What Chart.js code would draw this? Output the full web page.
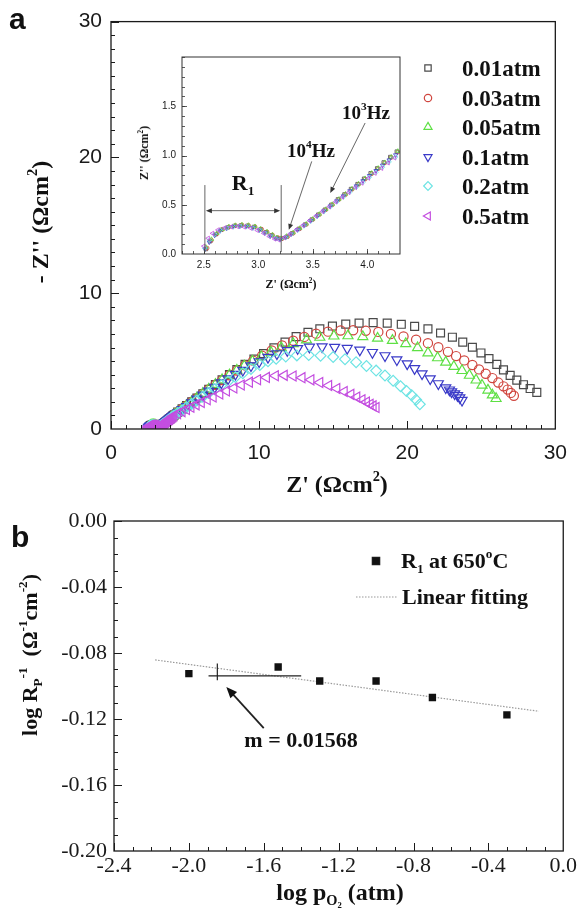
<!DOCTYPE html>
<html>
<head>
<meta charset="utf-8">
<title>Impedance spectra vs oxygen partial pressure</title>
<script src="https://cdn.jsdelivr.net/npm/chart.js@4.4.1/dist/chart.umd.min.js"></script>
<style>
  html, body { margin: 0; padding: 0; background: #fff; }
  #fig { position: relative; width: 579px; height: 922px; overflow: hidden; }
  canvas { position: absolute; }
  .txt { position: absolute; white-space: nowrap; line-height: 1; color: #111;
         font-family: "Liberation Serif", "Times New Roman", serif; font-weight: bold; }
  .ctr { transform: translate(-50%, -50%); }
  .rot { transform: translate(-50%, -50%) rotate(-90deg); }
  .lft { transform: translateY(-50%); }
  .panel { font-family: "Liberation Sans", Arial, sans-serif; font-size: 30px; }
  sup, sub { font-size: 0.6em; line-height: 0; position: relative; vertical-align: baseline; }
  sup { top: -0.75em; }
  sub { top: 0.35em; }
</style>
</head>
<body>
<div id="fig">
  <canvas id="nyquist" width="579" height="500" style="left:0;top:0"></canvas>
  <canvas id="inset" width="280" height="245" style="left:130px;top:40px"></canvas>
  <canvas id="rp" width="579" height="422" style="left:0;top:500px"></canvas>

  <div class="txt panel" style="left:9px;top:4px">a</div>
  <div class="txt rot" style="left:40px;top:222px;font-size:24px">- Z'' (&Omega;cm<sup>2</sup>)</div>
  <div class="txt ctr" style="left:337px;top:484px;font-size:24px">Z' (&Omega;cm<sup>2</sup>)</div>

  <div class="txt rot" style="left:144px;top:153px;font-size:12px">Z'' (&Omega;cm<sup>2</sup>)</div>
  <div class="txt ctr" style="left:291px;top:284px;font-size:12px">Z' (&Omega;cm<sup>2</sup>)</div>
  <div class="txt ctr" style="left:243px;top:183px;font-size:22px">R<sub>1</sub></div>
  <div class="txt ctr" style="left:311px;top:150px;font-size:19px">10<sup>4</sup>Hz</div>
  <div class="txt ctr" style="left:366px;top:112px;font-size:19px">10<sup>3</sup>Hz</div>

  <div class="txt panel" style="left:11px;top:522px">b</div>
  <div class="txt rot" style="left:30px;top:655px;font-size:22px">log R<sub>P</sub><sup>-1</sup> &nbsp;(&Omega;<sup>-1</sup>cm<sup>-2</sup>)</div>
  <div class="txt ctr" style="left:340px;top:892px;font-size:24px">log p<sub>O<sub>2</sub></sub> (atm)</div>
  <div class="txt lft" style="left:401px;top:561px;font-size:22px">R<sub>1</sub> at 650<sup>o</sup>C</div>
  <div class="txt lft" style="left:402px;top:597px;font-size:22px">Linear fitting</div>
  <div class="txt ctr" style="left:301px;top:740px;font-size:22px">m = 0.01568</div>
</div>

<script>
"use strict";

/* ─── Panel a: Nyquist plots, Z' (Ωcm²) and -Z'' (Ωcm²) per pO2 ─────────── */

const P_LABELS = ["0.01atm", "0.03atm", "0.05atm", "0.1atm", "0.2atm", "0.5atm"];

const RE_001 = [2.52,2.56,2.61,2.66,2.72,2.78,2.84,2.90,2.96,3.02,3.07,3.12,3.17,3.21,3.26,3.31,3.37,3.43,3.49,3.55,3.61,3.67,3.73,3.79,3.85,3.91,3.97,4.03,4.09,4.15,4.21,4.27,
  4.5,4.8,5.1,5.45,5.8,6.2,6.6,7.05,7.5,8.0,8.5,9.05,9.65,10.3,11.0,11.75,12.5,13.3,14.1,14.95,15.85,16.75,17.7,18.65,19.6,20.5,21.4,22.25,23.05,23.75,24.4,24.98,25.52,26.05,26.5,26.95,27.4,27.85,28.3,28.75];
const IM_001 = [0.05,0.13,0.20,0.245,0.27,0.285,0.29,0.287,0.275,0.25,0.222,0.19,0.163,0.155,0.175,0.21,0.255,0.30,0.35,0.40,0.45,0.50,0.555,0.605,0.66,0.71,0.765,0.82,0.87,0.93,0.985,1.04,
  1.24,1.48,1.72,2.0,2.28,2.6,2.92,3.27,3.62,4.0,4.37,4.76,5.15,5.55,5.98,6.4,6.8,7.12,7.38,7.58,7.72,7.8,7.83,7.8,7.71,7.56,7.37,7.07,6.76,6.4,6.02,5.6,5.18,4.76,4.35,3.95,3.6,3.26,2.98,2.7];

const RE_003 = [2.53,2.57,2.62,2.67,2.73,2.79,2.85,2.91,2.97,3.03,3.08,3.13,3.18,3.22,3.27,3.32,3.38,3.44,3.50,3.56,3.62,3.68,3.74,3.80,3.86,3.92,3.98,4.04,4.10,4.16,4.22,4.28,
  4.5,4.8,5.1,5.45,5.8,6.2,6.6,7.05,7.5,8.0,8.5,9.05,9.6,10.2,10.85,11.55,12.3,13.05,13.85,14.65,15.5,16.35,17.2,18.05,18.9,19.75,20.6,21.4,22.1,22.75,23.3,23.85,24.4,24.85,25.3,25.75,26.15,26.5,26.78,27.0,27.2];
const IM_003 = [0.06,0.14,0.205,0.25,0.275,0.29,0.295,0.29,0.277,0.252,0.224,0.193,0.166,0.158,0.178,0.212,0.256,0.30,0.35,0.40,0.45,0.50,0.553,0.603,0.657,0.707,0.76,0.815,0.866,0.925,0.98,1.035,
  1.23,1.47,1.71,1.99,2.27,2.59,2.91,3.26,3.6,3.96,4.31,4.68,5.03,5.4,5.78,6.15,6.5,6.78,7.02,7.17,7.25,7.27,7.23,7.15,7.0,6.82,6.58,6.32,6.02,5.68,5.37,5.05,4.71,4.39,4.07,3.75,3.42,3.14,2.9,2.66,2.45];

const RE_005 = [2.52,2.57,2.62,2.67,2.73,2.79,2.85,2.91,2.97,3.02,3.08,3.13,3.17,3.21,3.26,3.32,3.38,3.44,3.50,3.56,3.62,3.68,3.74,3.80,3.86,3.92,3.98,4.04,4.10,4.16,4.22,4.28,
  4.5,4.8,5.1,5.45,5.8,6.2,6.6,7.05,7.5,8.0,8.5,9.0,9.55,10.15,10.8,11.5,12.3,13.2,14.1,15.05,16.0,17.0,18.0,19.0,19.9,20.7,21.4,22.05,22.6,23.15,23.7,24.2,24.65,25.05,25.45,25.75,26.0];
const IM_005 = [0.07,0.15,0.21,0.25,0.278,0.292,0.297,0.293,0.28,0.256,0.226,0.195,0.168,0.16,0.182,0.218,0.262,0.306,0.356,0.405,0.455,0.505,0.558,0.61,0.663,0.713,0.768,0.822,0.873,0.93,0.985,1.045,
  1.25,1.49,1.73,2.01,2.29,2.61,2.93,3.28,3.62,3.98,4.32,4.64,4.98,5.32,5.65,5.98,6.28,6.55,6.75,6.84,6.86,6.8,6.68,6.52,6.28,5.98,5.6,5.24,4.92,4.6,4.3,3.95,3.6,3.22,2.86,2.5,2.24];

const RE_01 = [2.51,2.55,2.60,2.65,2.71,2.77,2.83,2.89,2.95,3.01,3.06,3.11,3.16,3.20,3.25,3.30,3.36,3.42,3.48,3.54,3.60,3.66,3.72,3.78,3.84,3.90,3.96,4.02,4.08,4.14,4.20,4.26,
  4.5,4.8,5.1,5.45,5.8,6.2,6.6,7.0,7.45,7.9,8.4,8.9,9.45,10.0,10.6,11.2,11.9,12.6,13.4,14.25,15.1,15.95,16.8,17.65,18.5,19.3,20.0,20.5,21.0,21.55,22.1,22.6,22.85,23.0,23.2,23.4,23.55,23.7];
const IM_01 = [0.05,0.12,0.19,0.235,0.262,0.277,0.282,0.278,0.266,0.242,0.214,0.183,0.157,0.148,0.168,0.202,0.246,0.29,0.338,0.386,0.436,0.486,0.538,0.588,0.64,0.69,0.742,0.795,0.845,0.9,0.953,1.005,
  1.2,1.43,1.66,1.93,2.2,2.5,2.8,3.08,3.4,3.7,4.03,4.33,4.66,4.96,5.28,5.55,5.78,5.93,6.03,6.06,6.02,5.94,5.82,5.64,5.4,5.1,4.8,4.45,4.07,3.7,3.34,3.04,2.88,2.74,2.6,2.46,2.3,2.12];

const RE_02 = [2.51,2.55,2.60,2.65,2.71,2.77,2.83,2.89,2.95,3.01,3.06,3.11,3.16,3.20,3.25,3.30,3.36,3.42,3.48,3.54,3.60,3.66,3.72,3.78,3.84,3.90,3.96,4.02,4.08,4.14,4.20,4.26,
  4.5,4.8,5.1,5.45,5.8,6.2,6.6,7.0,7.45,7.9,8.4,8.9,9.45,10.05,10.6,11.15,11.8,12.55,13.35,14.15,15.0,15.8,16.55,17.25,17.9,18.5,19.05,19.55,19.95,20.3,20.6,20.85];
const IM_02 = [0.06,0.14,0.2,0.24,0.265,0.278,0.282,0.277,0.264,0.24,0.212,0.181,0.155,0.146,0.165,0.198,0.24,0.284,0.332,0.38,0.428,0.478,0.528,0.578,0.628,0.678,0.728,0.78,0.83,0.882,0.935,0.985,
  1.17,1.38,1.6,1.85,2.1,2.38,2.65,2.92,3.22,3.5,3.82,4.1,4.42,4.72,4.98,5.18,5.33,5.42,5.44,5.4,5.3,5.14,4.92,4.64,4.3,3.94,3.55,3.15,2.8,2.48,2.16,1.82];

const RE_05 = [2.50,2.54,2.58,2.63,2.69,2.75,2.81,2.87,2.93,2.99,3.05,3.10,3.15,3.19,3.24,3.29,3.35,3.41,3.47,3.53,3.59,3.65,3.71,3.77,3.83,3.89,3.95,4.01,4.07,4.13,4.19,4.25,
  4.5,4.8,5.1,5.4,5.75,6.1,6.5,6.9,7.35,7.8,8.3,8.8,9.35,9.9,10.5,11.1,11.7,12.3,12.9,13.5,14.1,14.7,15.25,15.75,16.2,16.6,16.95,17.25,17.5,17.7,17.9];
const IM_05 = [0.08,0.16,0.21,0.245,0.265,0.275,0.278,0.274,0.262,0.24,0.21,0.178,0.152,0.142,0.165,0.2,0.245,0.29,0.338,0.385,0.432,0.48,0.53,0.578,0.625,0.675,0.72,0.77,0.82,0.87,0.925,0.975,
  1.12,1.28,1.44,1.6,1.78,1.96,2.16,2.36,2.58,2.8,3.02,3.24,3.45,3.63,3.8,3.92,3.95,3.9,3.78,3.62,3.42,3.2,2.98,2.76,2.55,2.35,2.15,1.98,1.82,1.7,1.58];

const MAIN_TICKS = [0, 10, 20, 30];
const MAIN_TICK_LABELS = ["0", "10", "20", "30"];
const INSET_X_TICKS = [2.5, 3.0, 3.5, 4.0];
const INSET_X_LABELS = ["2.5", "3.0", "3.5", "4.0"];
const INSET_Y_TICKS = [0.0, 0.5, 1.0, 1.5];
const INSET_Y_LABELS = ["0.0", "0.5", "1.0", "1.5"];

// inset annotations (data coordinates of the inset)
const R1_EDGES = [2.51, 3.21];
const R1_SPAN = [0.02, 0.70];
const R1_ARROW_Y = 0.44;
const HZ4_ARROW = [3.49, 0.94, 3.28, 0.245];
const HZ3_ARROW = [3.98, 1.33, 3.66, 0.62];

/* ─── Panel b: log Rp^-1 vs log pO2 ───────────────────────────────────────── */

const LOG_PO2 = [-2.0, -1.523, -1.301, -1.0, -0.699, -0.301];
const LOG_RP_INV = [-0.0925, -0.0885, -0.097, -0.097, -0.107, -0.1175];
const FIT_X = [-2.18, -0.13];
const FIT_Y = [-0.0842, -0.1153];

const RP_X_TICKS = [-2.4, -2.0, -1.6, -1.2, -0.8, -0.4, 0.0];
const RP_X_LABELS = ["-2.4", "-2.0", "-1.6", "-1.2", "-0.8", "-0.4", "0.0"];
const RP_Y_TICKS = [-0.20, -0.16, -0.12, -0.08, -0.04, 0.00];
const RP_Y_LABELS = ["-0.20", "-0.16", "-0.12", "-0.08", "-0.04", "0.00"];

const SLOPE_H = [-1.895, -1.40, -0.0939];
const SLOPE_V = [-1.848, -0.0864, -0.0965];
const M_ARROW = [-1.60, -0.1255, -1.80, -0.1006];

/* ─── Styles ─────────────────────────────────────────────────────────────── */

const SERIES = [
  { label: P_LABELS[0], re: RE_001, im: IM_001, style: "rect",     rot: 0,   color: "#4a4a4a", r: 5.6 },
  { label: P_LABELS[1], re: RE_003, im: IM_003, style: "circle",   rot: 0,   color: "#d0463f", r: 4.6 },
  { label: P_LABELS[2], re: RE_005, im: IM_005, style: "triangle", rot: 0,   color: "#5ee044", r: 5.8 },
  { label: P_LABELS[3], re: RE_01,  im: IM_01,  style: "triangle", rot: 180, color: "#3a3ac8", r: 5.8 },
  { label: P_LABELS[4], re: RE_02,  im: IM_02,  style: "rectRot",  rot: 0,   color: "#6ee4e4", r: 5.4 },
  { label: P_LABELS[5], re: RE_05,  im: IM_05,  style: "triangle", rot: 270, color: "#c44ee0", r: 5.8 },
];

const SANS = '"Liberation Sans", Arial, sans-serif';
const SERIF = '"Liberation Serif", "Times New Roman", serif';
const INK = "#1a1a1a";

function toPoints(xs, ys) {
  return xs.map((x, i) => ({ x, y: ys[i] }));
}

// positions of minor tick marks between lo and hi
function stepsBetween(lo, hi, step) {
  const out = [];
  for (let v = lo; v <= hi + step / 2; v += step) out.push(Math.round(v * 1000) / 1000);
  return out;
}

/** Box frame plus inward tick marks, like the original Origin plots. */
const frameTicks = {
  id: "frameTicks",
  afterDatasetsDraw(chart, args, o) {
    const { ctx, chartArea: a, scales: { x, y } } = chart;
    ctx.save();
    ctx.strokeStyle = o.color || INK;
    ctx.lineWidth = o.width || 1.2;
    ctx.strokeRect(a.left, a.top, a.right - a.left, a.bottom - a.top);
    ctx.beginPath();
    const markX = (vals, len) => vals.forEach(v => {
      const px = Math.round(x.getPixelForValue(v)) + 0.5;
      if (px < a.left || px > a.right) return;
      ctx.moveTo(px, a.bottom); ctx.lineTo(px, a.bottom - len);
    });
    const markY = (vals, len) => vals.forEach(v => {
      const py = Math.round(y.getPixelForValue(v)) + 0.5;
      if (py < a.top || py > a.bottom) return;
      ctx.moveTo(a.left, py); ctx.lineTo(a.left + len, py);
    });
    markX(o.xMajor, o.major); markX(o.xMinor, o.minor);
    markY(o.yMajor, o.major); markY(o.yMinor, o.minor);
    ctx.lineWidth = o.tickWidth || 1;
    ctx.stroke();
    ctx.restore();
  },
};

function drawArrow(ctx, x1, y1, x2, y2, head, half) {
  const ang = Math.atan2(y2 - y1, x2 - x1);
  ctx.beginPath();
  ctx.moveTo(x1, y1);
  ctx.lineTo(x2 - Math.cos(ang) * head * 0.6, y2 - Math.sin(ang) * head * 0.6);
  ctx.stroke();
  ctx.beginPath();
  ctx.moveTo(x2, y2);
  ctx.lineTo(x2 - Math.cos(ang) * head + Math.sin(ang) * half, y2 - Math.sin(ang) * head - Math.cos(ang) * half);
  ctx.lineTo(x2 - Math.cos(ang) * head - Math.sin(ang) * half, y2 - Math.sin(ang) * head + Math.cos(ang) * half);
  ctx.closePath();
  ctx.fill();
}

function axisCommon(min, max, ticks, labels, fitSize, isY, font, padding) {
  return {
    type: "linear",
    min, max,
    afterBuildTicks: s => { s.ticks = ticks.map(v => ({ value: v })); },
    afterFit: s => { if (isY) s.width = fitSize; else s.height = fitSize; },
    grid: { display: false, drawTicks: false },
    border: { display: false },
    ticks: {
      callback: (v, i) => labels[i],
      font, color: INK, padding,
      maxRotation: 0, autoSkip: false,
    },
  };
}

/* ─── Chart a (main) ─────────────────────────────────────────────────────── */

const legendMarks = {
  id: "legendMarks",
  afterDraw(chart) {
    const { ctx } = chart;
    const rows = [68, 98, 127, 157, 186, 216];
    SERIES.forEach((s, i) => {
      ctx.save();
      ctx.strokeStyle = s.color;
      ctx.fillStyle = "rgba(0,0,0,0)";
      ctx.lineWidth = 1.2;
      Chart.helpers.drawPoint(ctx, { pointStyle: s.style, rotation: s.rot, radius: s.r * 0.8, borderWidth: 1.2 }, 428, rows[i]);
      ctx.restore();
    });
  },
};

new Chart(document.getElementById("nyquist"), {
  type: "scatter",
  data: {
    datasets: SERIES.map((s, i) => ({
      label: s.label,
      data: toPoints(s.re, s.im),
      pointStyle: s.style,
      rotation: s.rot,
      pointRadius: s.r,
      pointBorderColor: s.color,
      pointBackgroundColor: "rgba(0,0,0,0)",
      pointBorderWidth: 1.2,
      showLine: false,
      order: SERIES.length - 1 - i,
    })),
  },
  options: {
    responsive: false, animation: false, devicePixelRatio: 1, events: [],
    layout: { padding: { top: 18, right: 15, left: 0, bottom: 0 } },
    plugins: {
      legend: { display: false }, tooltip: { enabled: false },
      frameTicks: {
        xMajor: MAIN_TICKS, xMinor: stepsBetween(0, 30, 1),
        yMajor: MAIN_TICKS, yMinor: stepsBetween(0, 30, 1),
        major: 8, minor: 4, width: 1.3,
      },
    },
    scales: {
      x: axisCommon(0, 30, MAIN_TICKS, MAIN_TICK_LABELS, 71, false, { family: SANS, size: 21 }, 12),
      y: axisCommon(0, 30, MAIN_TICKS, MAIN_TICK_LABELS, 111, true, { family: SANS, size: 21 }, 9),
    },
  },
  plugins: [frameTicks, legendMarks],
});

// legend texts for panel a
P_LABELS.forEach((t, i) => {
  const d = document.createElement("div");
  d.className = "txt lft";
  d.style.cssText = `left:462px;top:${[68, 98, 127, 157, 186, 216][i]}px;font-size:23px`;
  d.textContent = t;
  document.getElementById("fig").appendChild(d);
});

/* ─── Chart a (inset) ────────────────────────────────────────────────────── */

const insetMarks = {
  id: "insetMarks",
  afterDatasetsDraw(chart) {
    const { ctx, scales: { x, y } } = chart;
    const X = v => x.getPixelForValue(v), Y = v => y.getPixelForValue(v);
    ctx.save();
    ctx.strokeStyle = "#555";
    ctx.fillStyle = "#333";
    ctx.lineWidth = 0.9;
    ctx.beginPath();
    R1_EDGES.forEach(v => { ctx.moveTo(X(v), Y(R1_SPAN[0])); ctx.lineTo(X(v), Y(R1_SPAN[1])); });
    ctx.stroke();
    const yA = Y(R1_ARROW_Y);
    drawArrow(ctx, (X(R1_EDGES[0]) + X(R1_EDGES[1])) / 2, yA, X(R1_EDGES[0]) + 1, yA, 6, 2.5);
    drawArrow(ctx, (X(R1_EDGES[0]) + X(R1_EDGES[1])) / 2, yA, X(R1_EDGES[1]) - 1, yA, 6, 2.5);
    drawArrow(ctx, X(HZ4_ARROW[0]), Y(HZ4_ARROW[1]), X(HZ4_ARROW[2]), Y(HZ4_ARROW[3]), 6, 2.5);
    drawArrow(ctx, X(HZ3_ARROW[0]), Y(HZ3_ARROW[1]), X(HZ3_ARROW[2]), Y(HZ3_ARROW[3]), 6, 2.5);
    ctx.restore();
  },
};

new Chart(document.getElementById("inset"), {
  type: "scatter",
  data: {
    datasets: SERIES.map((s, i) => ({
      label: s.label,
      data: toPoints(s.re, s.im),
      pointStyle: s.style,
      rotation: s.rot,
      pointRadius: s.r * 0.42,
      pointBorderColor: s.color,
      pointBackgroundColor: "rgba(0,0,0,0)",
      pointBorderWidth: 0.8,
      showLine: false,
      order: SERIES.length - 1 - i,
    })),
  },
  options: {
    responsive: false, animation: false, devicePixelRatio: 1, events: [],
    layout: { padding: { top: 17, right: 10, left: 0, bottom: 0 } },
    plugins: {
      legend: { display: false }, tooltip: { enabled: false },
      frameTicks: {
        xMajor: INSET_X_TICKS, xMinor: stepsBetween(2.3, 4.3, 0.1),
        yMajor: INSET_Y_TICKS, yMinor: stepsBetween(0, 2.0, 0.1),
        major: 5, minor: 3, width: 1, color: "#333", tickWidth: 0.8,
      },
    },
    scales: {
      x: axisCommon(2.3, 4.3, INSET_X_TICKS, INSET_X_LABELS, 31, false, { family: SANS, size: 10 }, 5),
      y: axisCommon(0, 2.0, INSET_Y_TICKS, INSET_Y_LABELS, 52, true, { family: SANS, size: 10 }, 6),
    },
  },
  plugins: [frameTicks, insetMarks],
});

/* ─── Chart b ────────────────────────────────────────────────────────────── */

const rpMarks = {
  id: "rpMarks",
  afterDatasetsDraw(chart) {
    const { ctx, scales: { x, y } } = chart;
    const X = v => x.getPixelForValue(v), Y = v => y.getPixelForValue(v);
    ctx.save();
    ctx.strokeStyle = "#222";
    ctx.fillStyle = "#111";
    ctx.lineWidth = 1.2;
    ctx.beginPath();
    ctx.moveTo(X(SLOPE_H[0]), Y(SLOPE_H[2])); ctx.lineTo(X(SLOPE_H[1]), Y(SLOPE_H[2]));
    ctx.moveTo(X(SLOPE_V[0]), Y(SLOPE_V[1])); ctx.lineTo(X(SLOPE_V[0]), Y(SLOPE_V[2]));
    ctx.stroke();
    ctx.lineWidth = 1.8;
    drawArrow(ctx, X(M_ARROW[0]), Y(M_ARROW[1]), X(M_ARROW[2]), Y(M_ARROW[3]), 11, 4.5);
    // legend symbols
    Chart.helpers.drawPoint(ctx, { pointStyle: "rect", radius: 4.8, borderWidth: 1 }, 376, 61);
    ctx.fill();
    ctx.strokeStyle = "#999";
    ctx.lineWidth = 1.1;
    ctx.setLineDash([1.5, 1.5]);
    ctx.beginPath();
    ctx.moveTo(356, 97); ctx.lineTo(397, 97);
    ctx.stroke();
    ctx.restore();
  },
};

new Chart(document.getElementById("rp"), {
  type: "scatter",
  data: {
    datasets: [
      {
        label: "R1 at 650°C",
        data: toPoints(LOG_PO2, LOG_RP_INV),
        pointStyle: "rect",
        pointRadius: 5.2,
        pointBackgroundColor: "#111",
        pointBorderColor: "#111",
        pointBorderWidth: 0,
        showLine: false,
      },
      {
        label: "Linear fitting",
        data: toPoints(FIT_X, FIT_Y),
        showLine: true,
        borderColor: "#9a9a9a",
        borderWidth: 1.2,
        borderDash: [1.5, 1.5],
        pointRadius: 0,
      },
    ],
  },
  options: {
    responsive: false, animation: false, devicePixelRatio: 1, events: [],
    layout: { padding: { top: 21, right: 15, left: 0, bottom: 0 } },
    plugins: {
      legend: { display: false }, tooltip: { enabled: false },
      frameTicks: {
        xMajor: RP_X_TICKS, xMinor: stepsBetween(-2.4, 0, 0.1),
        yMajor: RP_Y_TICKS, yMinor: stepsBetween(-0.2, 0, 0.01),
        major: 8, minor: 4, width: 1.3,
      },
    },
    scales: {
      x: axisCommon(-2.4, 0, RP_X_TICKS, RP_X_LABELS, 71, false, { family: SERIF, size: 22 }, 2),
      y: axisCommon(-0.2, 0, RP_Y_TICKS, RP_Y_LABELS, 114, true, { family: SERIF, size: 22 }, 7),
    },
  },
  plugins: [frameTicks, rpMarks],
});
</script>
</body>
</html>
